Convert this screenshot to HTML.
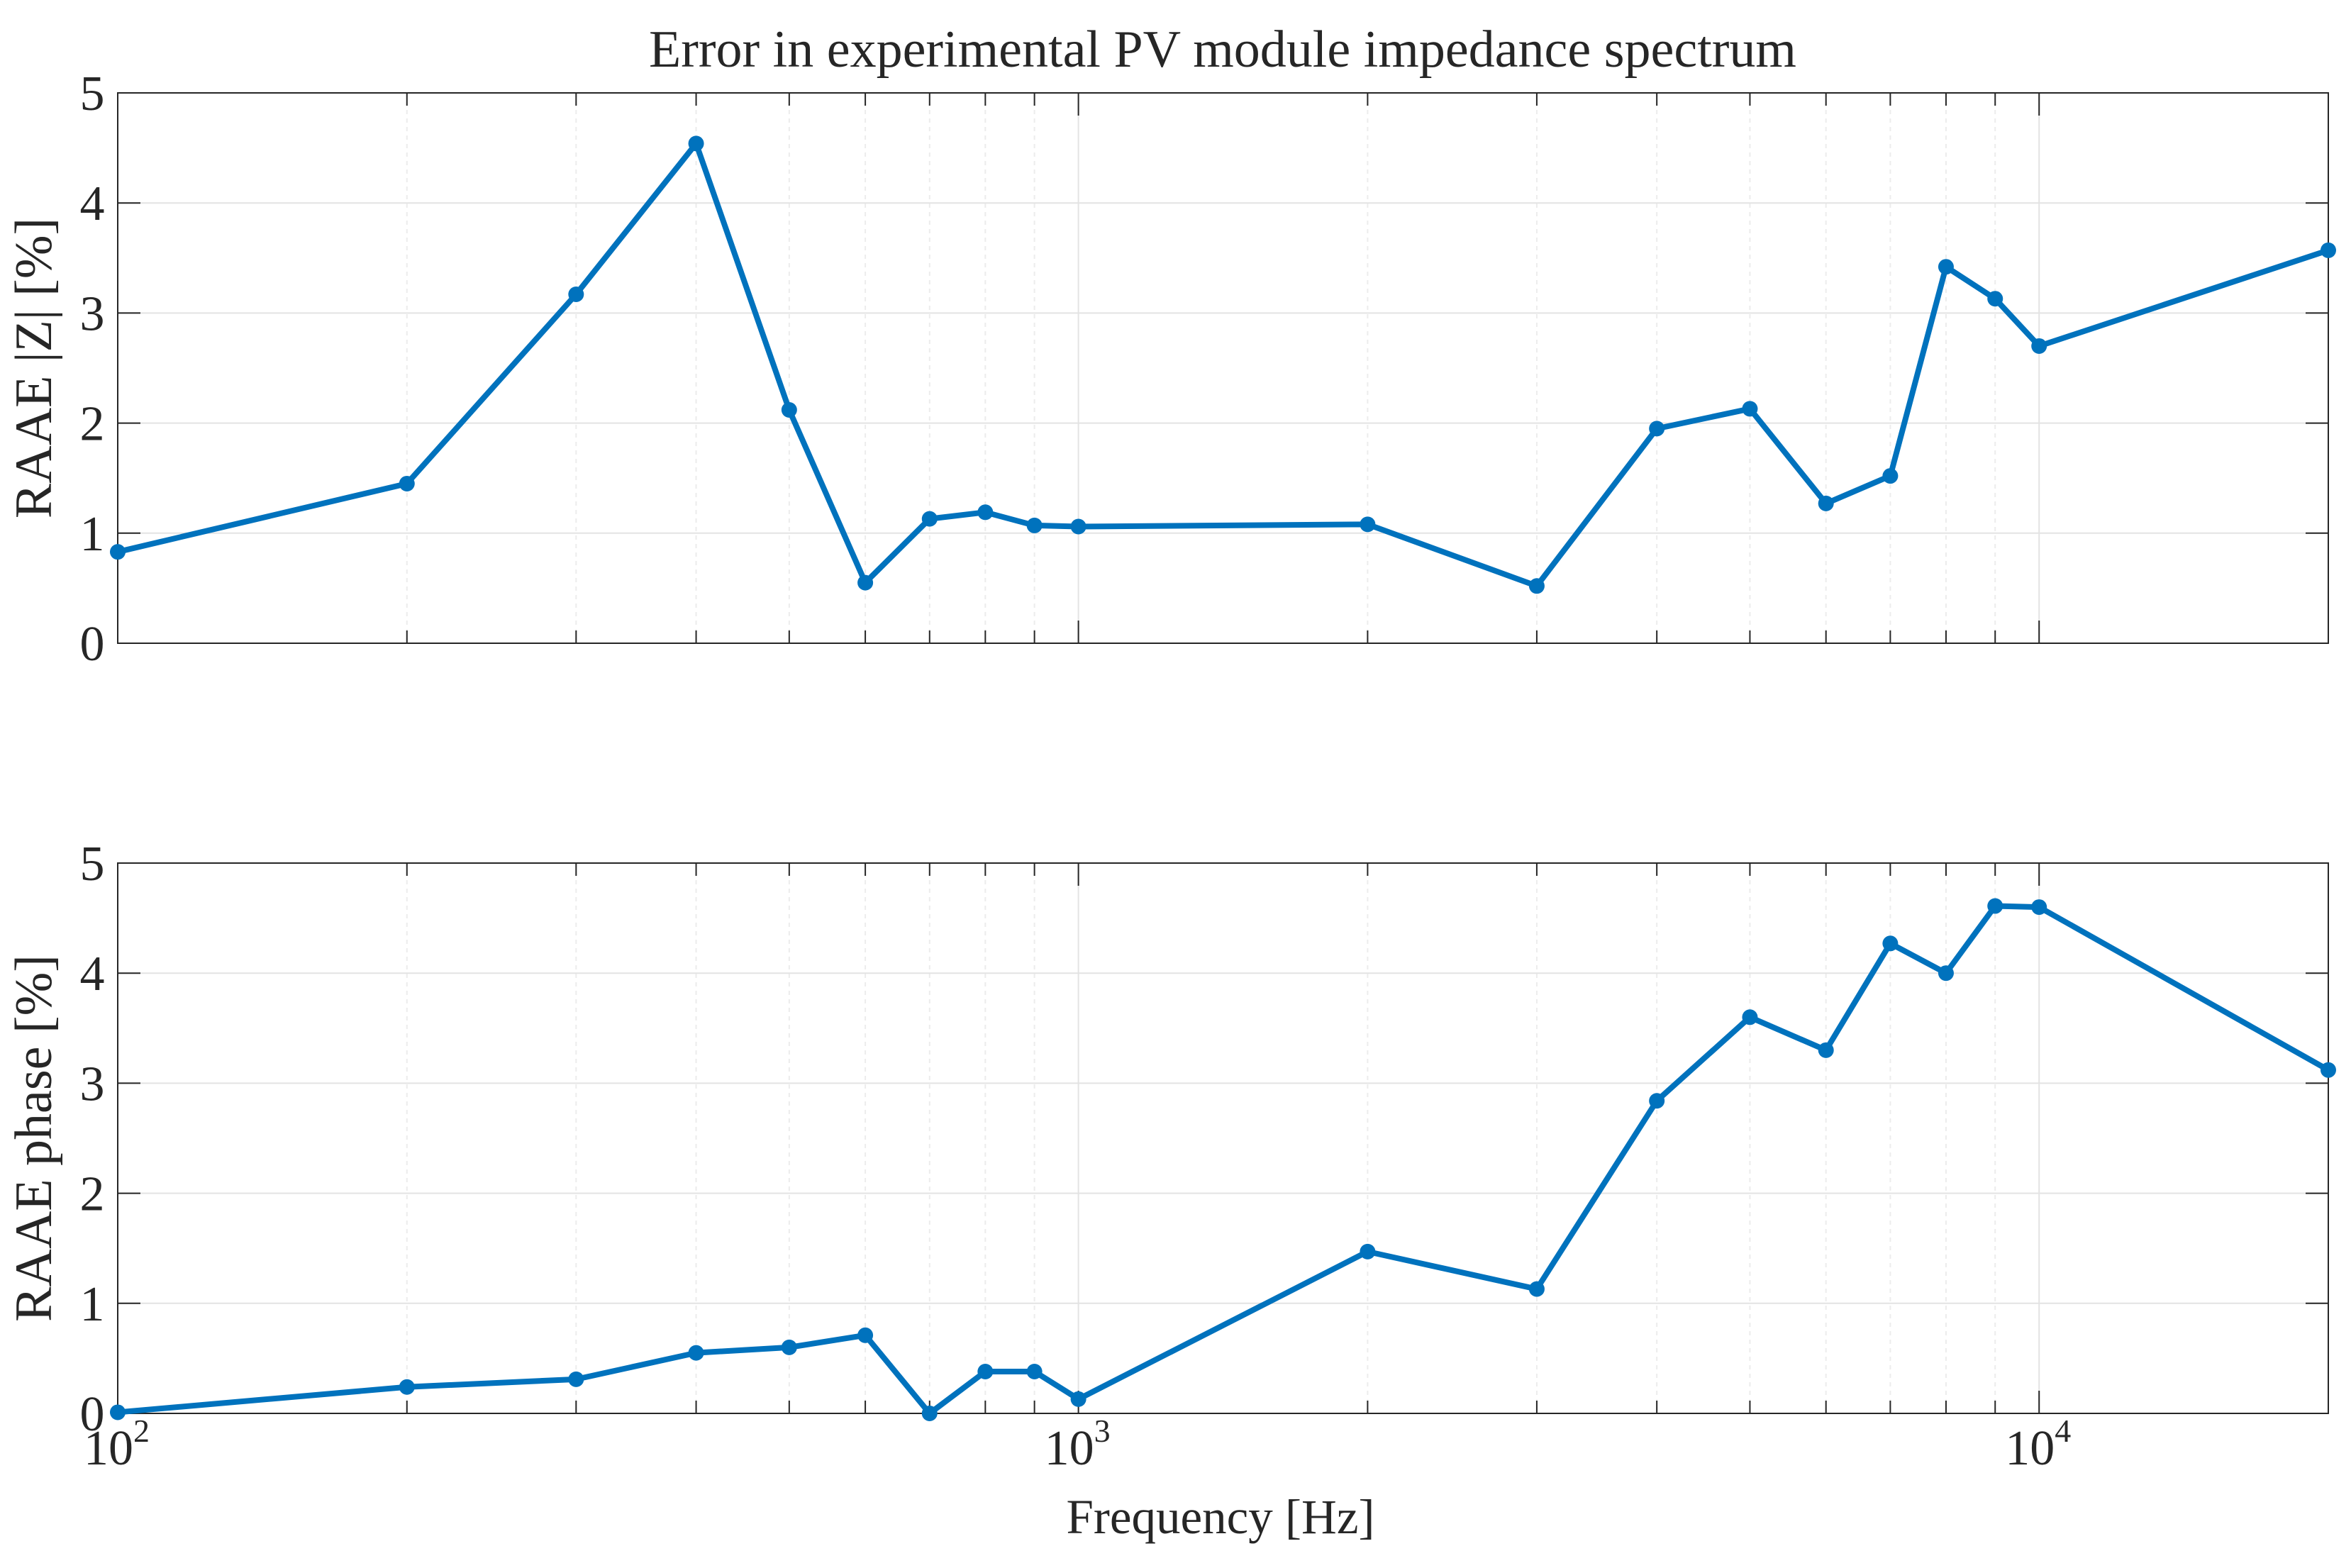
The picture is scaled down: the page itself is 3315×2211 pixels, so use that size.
<!DOCTYPE html>
<html><head><meta charset="utf-8"><style>
html,body{margin:0;padding:0;background:#fff}
svg{display:block}
text{font-family:"Liberation Serif",serif;fill:#262626}
</style></head><body>
<svg id="chart" width="3315" height="2211" viewBox="0 0 3315 2211" xmlns="http://www.w3.org/2000/svg">
<text x="1724" y="94" font-size="74" text-anchor="middle">Error in experimental PV module impedance spectrum</text>
<text x="1721" y="2162" font-size="69" text-anchor="middle">Frequency [Hz]</text>
<g id="plots"></g>
</svg>
<script>
const freqs = [100,200,300,400,500,600,700,800,900,1000,2000,3000,4000,5000,6000,7000,8000,9000,10000,20000];
const magErr = [0.83,1.45,3.17,4.54,2.12,0.55,1.13,1.19,1.07,1.06,1.08,0.52,1.95,2.13,1.27,1.52,3.42,3.13,2.70,3.57];
const phaseErr = [0.01,0.24,0.31,0.55,0.60,0.71,0.00,0.38,0.38,0.13,1.47,1.13,2.84,3.60,3.30,4.27,4.00,4.61,4.60,3.12];
const yTicks = [0,1,2,3,4,5];
const xDecades = [2,3,4];

const NS = "http://www.w3.org/2000/svg";
const root = document.getElementById('plots');
const X0 = 166, X1 = 3283, XMIN = 100, XMAX = 20000;
function xs(f){ return X0 + (Math.log10(f)-Math.log10(XMIN))/(Math.log10(XMAX)-Math.log10(XMIN))*(X1-X0); }
function mk(tag, attrs, parent){ const e=document.createElementNS(NS,tag); for(const k in attrs) e.setAttribute(k,attrs[k]); parent.appendChild(e); return e; }

function panel(name, top, bottom, values, ylabel, showX){
  const g = mk('g',{},root);
  
  
  const ys = v => bottom - v/5*(bottom-top);
  for(let d=2; d<=4; d++){ for(let m=1;m<=9;m++){ const f=m*Math.pow(10,d); if(f>XMAX) break; const x=xs(f);
    const l = mk('line',{x1:x,x2:x,y1:top,y2:bottom,stroke:m===1?'#e3e3e3':'#ececec','stroke-width':2,'stroke-dasharray':m===1?'':'6,6'},g);
    
    
    if(m!==1){ mk('line',{x1:x,x2:x,y1:bottom,y2:bottom-18,stroke:'#262626','stroke-width':2},g); mk('line',{x1:x,x2:x,y1:top,y2:top+18,stroke:'#262626','stroke-width':2},g);} } }
  yTicks.forEach(t=>{ const y=ys(t);
    const l=mk('line',{x1:X0,x2:X1,y1:y,y2:y,stroke:'#e3e3e3','stroke-width':2},g);
    
    
    mk('line',{x1:X0,x2:X0+32,y1:y,y2:y,stroke:'#262626','stroke-width':2},g);
    mk('line',{x1:X1,x2:X1-32,y1:y,y2:y,stroke:'#262626','stroke-width':2},g);
    const tx=mk('text',{x:X0-36,y:y+24,'font-size':70,'text-anchor':'middle'},g); tx.textContent=t;
    
    
  });
  xDecades.forEach(d=>{ const x=xs(Math.pow(10,d));
    mk('line',{x1:x,x2:x,y1:bottom,y2:bottom-32,stroke:'#262626','stroke-width':2},g);
    mk('line',{x1:x,x2:x,y1:top,y2:top+32,stroke:'#262626','stroke-width':2},g);
    if(showX){ const tx=mk('text',{x:x-48,y:bottom+72,'font-size':70},g); tx.textContent='10';
      
      
      const sp=mk('text',{x:x+22,y:bottom+40,'font-size':46},g); sp.textContent=d; }
  });
  const box=mk('rect',{x:X0,y:top,width:X1-X0,height:bottom-top,fill:'none',stroke:'#262626','stroke-width':2},g);
  
  
  const yl=mk('text',{x:0,y:0,'font-size':74,'text-anchor':'middle',transform:`translate(72,${(top+bottom)/2}) rotate(-90)`},g);
  yl.textContent=ylabel;
  
  
  const pts=freqs.map((f,i)=>xs(f)+','+ys(values[i])).join(' ');
  const pl=mk('polyline',{points:pts,fill:'none',stroke:'#0072BD','stroke-width':8,'stroke-linejoin':'round'},g);
  
  
  freqs.forEach((f,i)=>{ const c=mk('circle',{cx:xs(f),cy:ys(values[i]),r:11,fill:'#0072BD'},g);
    
     });
}
panel('magnitude-panel',131,907,magErr,'RAAE |Z| [%]',false);
panel('phase-panel',1217,1993,phaseErr,'RAAE phase [%]',true);
</script>
</body></html>
